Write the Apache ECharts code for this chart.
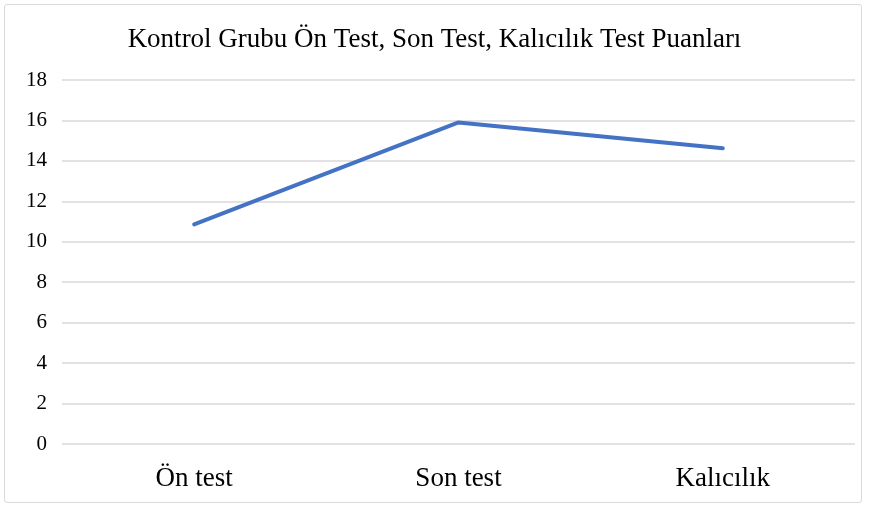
<!DOCTYPE html>
<html>
<head>
<meta charset="utf-8">
<script src="https://cdn.jsdelivr.net/npm/echarts@6/dist/echarts.min.js"></script>
<style>
  html, body { margin: 0; padding: 0; background: #fff; }
  #frame {
    position: absolute; left: 4px; top: 4px; width: 858px; height: 499px;
    border: 1px solid #d9d9d9; border-radius: 3px; box-sizing: border-box;
  }
  #chart { position: absolute; left: 0; top: 0; width: 869px; height: 508px; }
</style>
</head>
<body>
<div id="frame"></div>
<div id="chart"></div>
<script>
// veri
const chartTitle = 'Kontrol Grubu Ön Test, Son Test, Kalıcılık Test Puanları';
const categories = ['Ön test', 'Son test', 'Kalıcılık'];
const scores = [10.86, 15.9, 14.62];

const serif = '"Liberation Serif", "DejaVu Serif", serif';

const chart = echarts.init(document.getElementById('chart'), null, { renderer: 'canvas' });

chart.setOption({
  animation: false,
  backgroundColor: 'transparent',
  title: {
    text: chartTitle,
    left: 'center',
    top: 21,
    textStyle: { fontFamily: serif, fontSize: 27, fontWeight: 'normal', color: '#000' }
  },
  grid: { left: 62, right: 14, top: 80, bottom: 64, containLabel: false },
  xAxis: {
    type: 'category',
    data: categories,
    boundaryGap: true,
    axisLine: { show: false },
    axisTick: { show: false },
    axisLabel: { fontFamily: serif, fontSize: 27, color: '#000', margin: 21 }
  },
  yAxis: {
    type: 'value',
    min: 0,
    max: 18,
    interval: 2,
    axisLine: { show: false },
    axisTick: { show: false },
    axisLabel: { fontFamily: serif, fontSize: 21, color: '#000', margin: 15 },
    splitLine: { lineStyle: { color: '#d9d9d9', width: 1.5 } }
  },
  series: [{
    type: 'line',
    data: scores,
    showSymbol: false,
    symbol: 'none',
    lineStyle: { color: '#4472C4', width: 4, cap: 'round', join: 'round' }
  }]
});
</script>
</body>
</html>
